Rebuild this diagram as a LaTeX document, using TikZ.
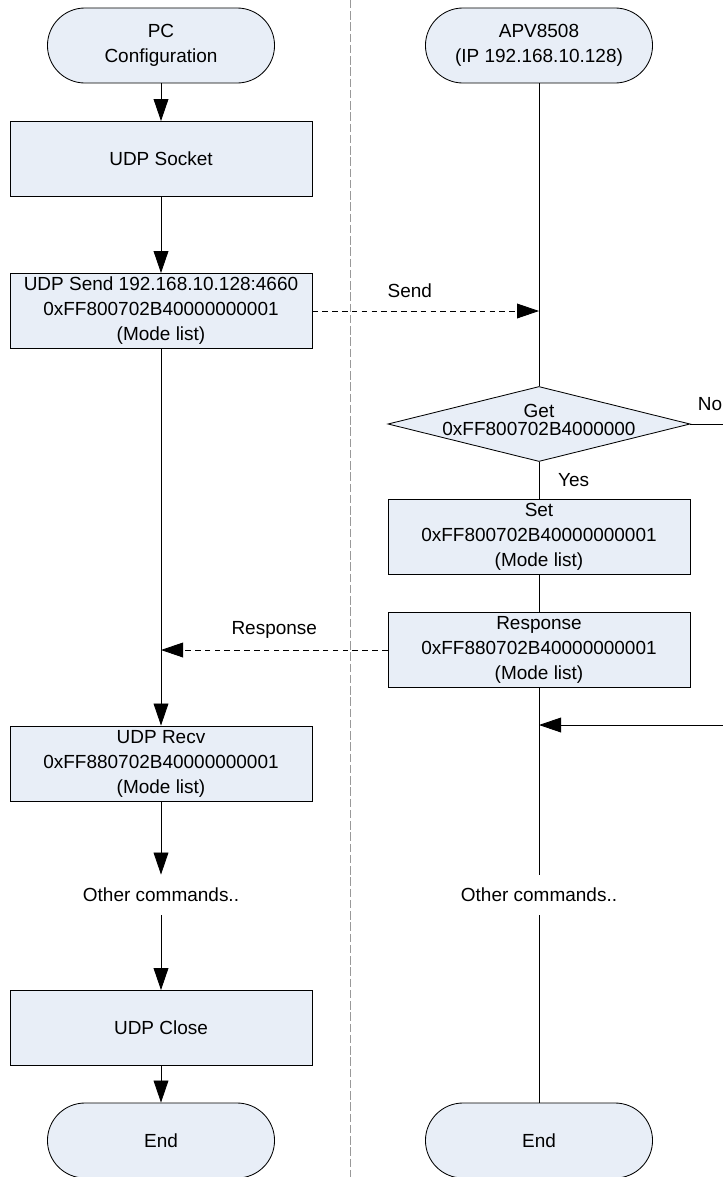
\documentclass[tikz,border=0pt]{standalone}
\usepackage{fontspec}
\setmainfont{Liberation Sans}
\usetikzlibrary{arrows.meta,shapes.geometric}

\definecolor{boxfill}{RGB}{232,238,247}

\tikzset{
    every node/.style={font=\fontsize{13.5}{17.8}\selectfont},
    box/.style={draw,fill=boxfill,align=center,minimum width=7.55cm,minimum height=1.875cm,inner sep=0pt},
    terminal/.style={draw,fill=boxfill,align=center,rounded corners=0.9375cm,minimum width=5.675cm,minimum height=1.875cm,inner sep=0pt},
    decision/.style={draw,fill=boxfill,diamond,minimum width=7.55cm,minimum height=1.875cm,inner sep=0pt},
    textonly/.style={minimum height=1cm,inner sep=0pt},
    flow/.style={-{Triangle[length=0.55cm,width=0.37cm]}},
    msg/.style={flow,dash pattern=on 4pt off 3pt},
}

\begin{document}
\begin{tikzpicture}[x=0.025cm,y=-0.025cm,line width=0.6pt]
            \useasboundingbox (0,0) rectangle (723,1177);

            % separator between PC and APV8508
            \draw [gray!80,line width=0.4pt,dash pattern=on 6pt off 2pt] (350,0) -- (350,1177);

            % PC side
            \node[terminal] (pc) at (161,45.5) {PC\\Configuration};
            \node[box] (socket) at (161,159) {UDP Socket};
            \node[box] (send) at (161,311) {UDP Send 192.168.10.128:4660\\0xFF800702B40000000001\\(Mode list)};
            \node[box] (recv) at (161,763.5) {UDP Recv\\0xFF880702B40000000001\\(Mode list)};
            \node[textonly] (pcother) at (161,895) {Other commands..};
            \node[box] (close) at (161,1028) {UDP Close};
            \node[terminal] (pcend) at (161,1140.5) {End};

            % APV8508 side
            \node[terminal] (apv) at (539,45.5) {APV8508\\(IP 192.168.10.128)};
            \node[decision,label={[align=center,yshift=1mm,font=\fontsize{13.5}{12.5}\selectfont]center:Get\\0xFF800702B4000000}] (get) at (539,424) {};
            \node[box] (set) at (539,536.5) {Set\\0xFF800702B40000000001\\(Mode list)};
            \node[box] (resp) at (539,650) {Response\\0xFF880702B40000000001\\(Mode list)};
            \node[textonly] (apvother) at (539,895) {Other commands..};
            \node[terminal] (apvend) at (539,1140.5) {End};

            \coordinate (noend) at (723,424);
            \coordinate (loopin) at (723,725);

            \draw [flow] (pc) -- (socket);
            \draw [flow] (socket) -- (send);
            \draw [flow] (send) -- (recv);
            \draw [flow] (recv) -- (pcother);
            \draw [flow] (pcother) -- (close);
            \draw [flow] (close) -- (pcend);

            \draw (apv) -- (get);
            \draw (get) -- node[right=0.35cm] {Yes} (set);
            \draw (get.east) -- node[above=0.2cm,pos=0.6] {No} (noend);
            \draw (set) -- (resp);
            \draw (resp) -- (apvother);
            \draw (apvother) -- (apvend);
            \draw [flow] (loopin) -- (loopin -| apv);

            % messages
            \draw [msg] (send.east) -- node[above=0.2cm,pos=0.43] {Send} (send -| apv);
            \draw [msg] (resp.west) -- node[above=0.15cm] {Response} (resp -| pc);
\end{tikzpicture}
\end{document}
